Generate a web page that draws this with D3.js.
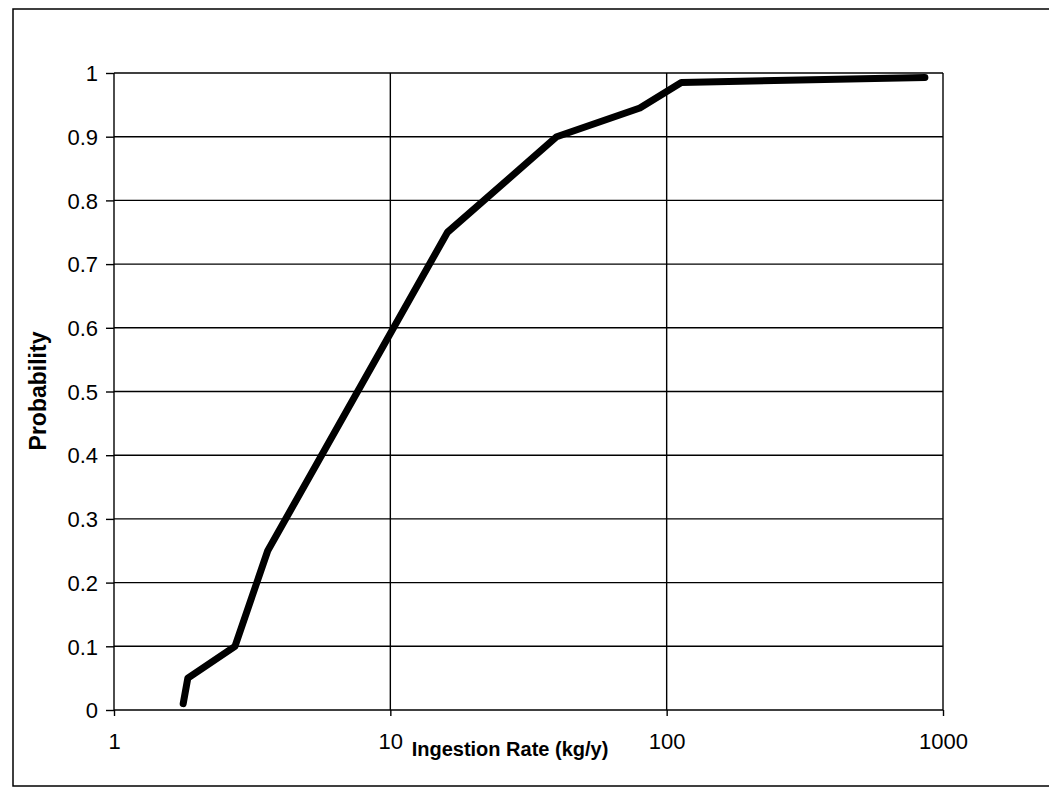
<!DOCTYPE html>
<html>
<head>
<meta charset="utf-8">
<script src="https://cdn.jsdelivr.net/npm/d3@7"></script>
<style>
  html, body { margin: 0; padding: 0; background: #fff; }
  svg { display: block; }
  text { font-family: "Liberation Sans", Arial, sans-serif; fill: #000; }
</style>
</head>
<body>
<svg id="chart" width="1049" height="791"></svg>
<script>
// ---- data ----
const ingestionRate = [1.78, 1.85, 2.74, 3.6, 16.1, 40, 80, 113, 860];
const probability   = [0.01, 0.05, 0.10, 0.25, 0.75, 0.90, 0.945, 0.985, 0.993];
const xTicks = [1, 10, 100, 1000];
const yTicks = [0, 0.1, 0.2, 0.3, 0.4, 0.5, 0.6, 0.7, 0.8, 0.9, 1];
const xTitle = "Ingestion Rate (kg/y)";
const yTitle = "Probability";

// ---- layout ----
const svg = d3.select("#chart");
const plot = { left: 114, right: 943, top: 73, bottom: 710 };

const x = d3.scaleLog().domain([1, 1000]).range([plot.left, plot.right]);
const y = d3.scaleLinear().domain([0, 1]).range([plot.bottom, plot.top]);

// outer frame
svg.append("rect")
  .attr("x", 13).attr("y", 9)
  .attr("width", 1100).attr("height", 777)
  .attr("fill", "none").attr("stroke", "#000").attr("stroke-width", 1.5);

// horizontal gridlines
svg.append("g").selectAll("line").data(yTicks).join("line")
  .attr("x1", plot.left).attr("x2", plot.right)
  .attr("y1", d => y(d)).attr("y2", d => y(d))
  .attr("stroke", "#000").attr("stroke-width", 1.4);

// vertical gridlines (including plot borders)
svg.append("g").selectAll("line").data(xTicks).join("line")
  .attr("x1", d => x(d)).attr("x2", d => x(d))
  .attr("y1", plot.top).attr("y2", plot.bottom)
  .attr("stroke", "#000").attr("stroke-width", 1.4);

// y axis
const yAxis = d3.axisLeft(y).tickValues(yTicks).tickSize(8).tickPadding(8)
  .tickFormat(d => d3.format("~g")(d));
const gy = svg.append("g").attr("transform", `translate(${plot.left},0)`).call(yAxis);
gy.select(".domain").remove();
gy.selectAll("line").attr("stroke", "#000").attr("stroke-width", 1.4);
gy.selectAll("text").attr("font-size", 22).attr("font-family", "Liberation Sans, Arial, sans-serif").attr("dy", "0.35em");

// x axis
const xAxis = d3.axisBottom(x).tickValues(xTicks).tickSize(6).tickPadding(17)
  .tickFormat(d3.format("d"));
const gx = svg.append("g").attr("transform", `translate(0,${plot.bottom})`).call(xAxis);
gx.select(".domain").remove();
gx.selectAll("line").attr("stroke", "#000").attr("stroke-width", 1.4);
gx.selectAll("text").attr("font-size", 22).attr("font-family", "Liberation Sans, Arial, sans-serif");

// data line
const line = d3.line().x((d, i) => x(ingestionRate[i])).y(d => y(d));
svg.append("path")
  .attr("d", line(probability))
  .attr("fill", "none").attr("stroke", "#000")
  .attr("stroke-width", 7).attr("stroke-linejoin", "round").attr("stroke-linecap", "round");

// axis titles
svg.append("text")
  .attr("x", 510).attr("y", 756)
  .attr("text-anchor", "middle")
  .attr("font-size", 20).attr("font-weight", "bold")
  .text(xTitle);

svg.append("text")
  .attr("transform", "translate(46,391) rotate(-90)")
  .attr("text-anchor", "middle")
  .attr("font-size", 23).attr("font-weight", "bold")
  .text(yTitle);
</script>
</body>
</html>
